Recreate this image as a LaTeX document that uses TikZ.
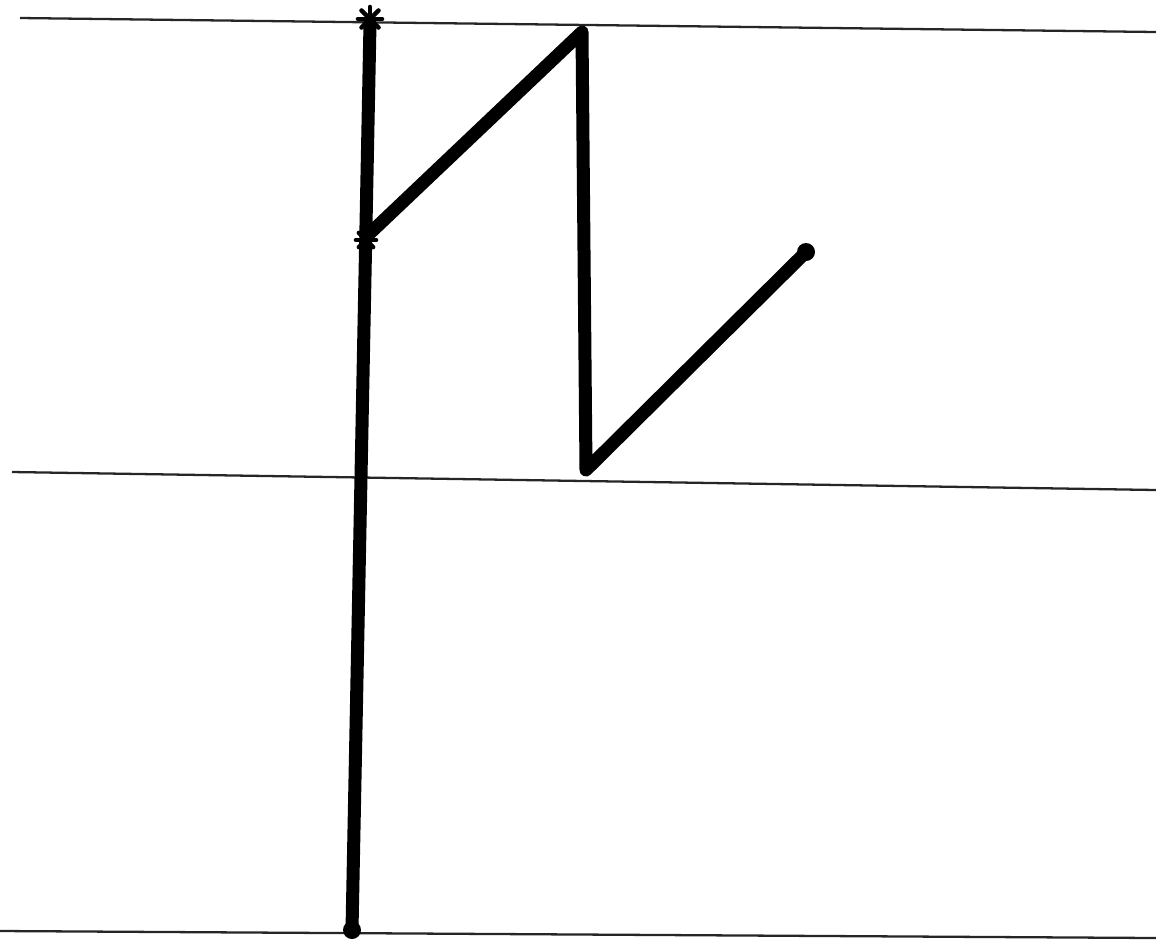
\documentclass[tikz,border=0pt]{standalone}
\begin{document}
\begin{tikzpicture}[x=0.02cm,y=-0.02cm,
  guide/.style={line width=1.3pt,black!85},
  stroke/.style={line width=7.4pt,black,line cap=round,line join=round},
  starline/.style={line width=2.6pt,black,line cap=round}]
\useasboundingbox (0,0) rectangle (1156,948);
% guide lines
\coordinate (t1) at (20,18); \coordinate (t2) at (1156,32);
\coordinate (m1) at (12,472); \coordinate (m2) at (1156,490);
\coordinate (b1) at (0,931); \coordinate (b2) at (1156,938);
\draw[guide] (t1) -- (t2);
\draw[guide] (m1) -- (m2);
\draw[guide] (b1) -- (b2);
% letter points
\coordinate (top) at (370,24);
\coordinate (bot) at (352,930);
\coordinate (mid) at (367,236);
\coordinate (peak) at (582,32);
\coordinate (low) at (586,470);
\coordinate (end) at (806,252);
\draw[stroke] (top) -- (bot);
\draw[stroke] (mid) -- (peak) -- (low) -- (end);
\fill (end) circle (9);
\fill (bot) circle (9);
% stars
\foreach \a in {0,45,...,315}
  \draw[starline] (370,19) -- ++(\a:12);
\foreach \a in {0,45,...,315}
  \draw[starline] (366,240) -- ++(\a:10);
\end{tikzpicture}
\end{document}
